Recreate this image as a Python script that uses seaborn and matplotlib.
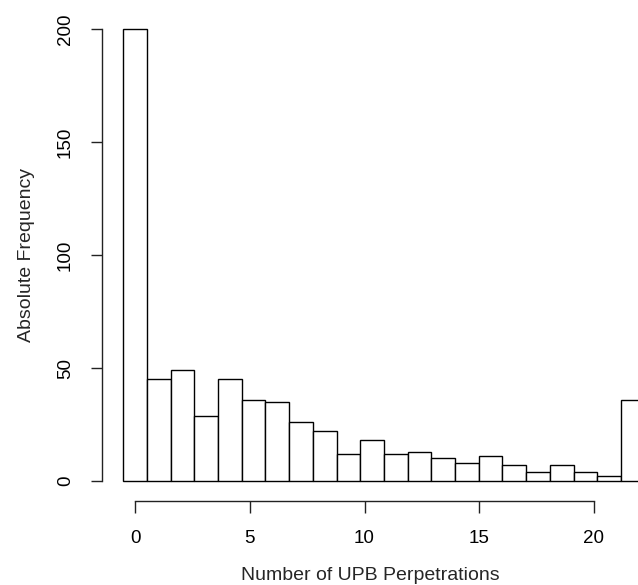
import numpy as np
import matplotlib
matplotlib.use("Agg")
import matplotlib.pyplot as plt
import seaborn as sns
import pandas as pd

# Häufigkeiten je Anzahl der Taten (letzter Balken = 21 und mehr)
perpetrations = list(range(22))
counts = [200, 45, 49, 29, 45, 36, 35, 26, 22, 12, 18,
          12, 13, 10, 8, 11, 7, 4, 7, 4, 2, 36]
x_tick_values = [0, 5, 10, 15, 20]
y_tick_values = [0, 50, 100, 150, 200]

df = pd.DataFrame({"perpetrations": perpetrations, "count": counts})

sns.set_theme(style="ticks")
plt.rcParams["font.family"] = ["Liberation Sans", "DejaVu Sans"]

fig = plt.figure(figsize=(6.38, 5.85), dpi=100)
ax = fig.add_axes([101.7 / 638, 1 - 490 / 585, 1 - 101.7 / 638, 470 / 585])

sns.histplot(data=df, x="perpetrations", weights="count", discrete=True,
             color="white", edgecolor="black", linewidth=1.0, alpha=1,
             ax=ax)

# R-artige Achsen (abgesetzt)
tick_scale = 0.968
ax.set_xlim(-1.411, 21.218)
ax.set_ylim(-3.99, 204.2)
ax.set_xticks([v * tick_scale for v in x_tick_values])
ax.set_xticklabels([str(v) for v in x_tick_values])
ax.set_yticks(y_tick_values)
ax.set_yticklabels([str(v) for v in y_tick_values], rotation=90, va="center")

for s in ["top", "right"]:
    ax.spines[s].set_visible(False)
ax.spines["bottom"].set_position(("outward", 7.7))
ax.spines["bottom"].set_bounds(0, 20 * tick_scale)
ax.spines["left"].set_bounds(0, 200)
for s in ["bottom", "left"]:
    ax.spines[s].set_linewidth(1.0)
    ax.spines[s].set_color("#222222")

ax.tick_params(axis="x", length=8.3, width=1.0, pad=13, labelsize=13.5, colors="#222222")
ax.tick_params(axis="y", length=8.0, width=1.0, pad=12, labelsize=13.5, colors="#222222")
for lbl in ax.get_xticklabels() + ax.get_yticklabels():
    lbl.set_color("black")

ax.set_xlabel("Number of UPB Perpetrations", fontsize=14, labelpad=14)
ax.set_ylabel("Absolute Frequency", fontsize=14, labelpad=16)

fig.savefig("out.png", dpi=100)
